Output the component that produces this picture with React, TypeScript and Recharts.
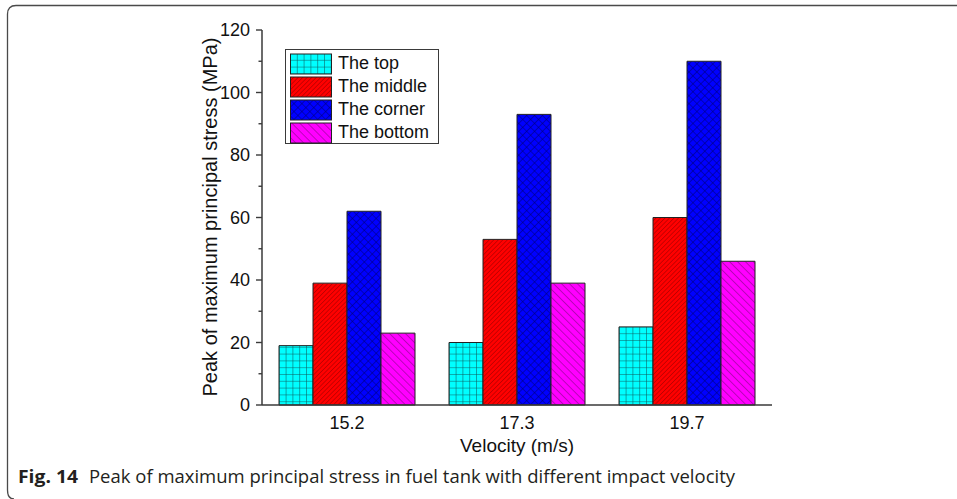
import React from "react";
import { BarChart, Bar, XAxis, YAxis } from "recharts";

const velocities = ["15.2", "17.3", "19.7"];
const topStress = [19, 20, 25];
const middleStress = [39, 53, 60];
const cornerStress = [62, 93, 110];
const bottomStress = [23, 39, 46];
const stressTicks = [0, 10, 20, 30, 40, 50, 60, 70, 80, 90, 100, 110, 120];

const data = velocities.map((v, i) => ({
  v,
  top: topStress[i],
  middle: middleStress[i],
  corner: cornerStress[i],
  bottom: bottomStress[i],
}));

const series = [
  { key: "top", name: "The top", fill: "url(#pat-top)" },
  { key: "middle", name: "The middle", fill: "url(#pat-middle)" },
  { key: "corner", name: "The corner", fill: "url(#pat-corner)" },
  { key: "bottom", name: "The bottom", fill: "url(#pat-bottom)" },
];

const FONT = "'Liberation Sans', Arial, sans-serif";
const CAPTION_FONT = "'Open Sans', 'Noto Sans', sans-serif";
const AXIS = "#3a3a3a";
const TICK_SIZE = 6;
const TICK_MARGIN = 6;

const Patterns = () => (
  <svg width={0} height={0} style={{ position: "absolute" }}>
    <defs>
      <pattern id="pat-top" width={6.8} height={6.8} patternUnits="userSpaceOnUse">
        <rect width={6.8} height={6.8} fill="#00ffff" />
        <path d="M0 0V6.8M0 0H6.8" stroke="#0d5a5c" strokeWidth={1.1} />
      </pattern>
      <pattern
        id="pat-middle"
        width={3.2}
        height={3.2}
        patternUnits="userSpaceOnUse"
        patternTransform="rotate(45)"
      >
        <rect width={3.2} height={3.2} fill="#ff0000" />
        <path d="M0 0V3.2" stroke="#8a0000" strokeWidth={0.9} />
      </pattern>
      <pattern
        id="pat-corner"
        width={5.6}
        height={5.6}
        patternUnits="userSpaceOnUse"
        patternTransform="rotate(45)"
      >
        <rect width={5.6} height={5.6} fill="#0000ff" />
        <path d="M0 0V5.6M0 0H5.6" stroke="#000070" strokeWidth={1} />
      </pattern>
      <pattern
        id="pat-bottom"
        width={5.6}
        height={5.6}
        patternUnits="userSpaceOnUse"
        patternTransform="rotate(-45)"
      >
        <rect width={5.6} height={5.6} fill="#ff00ff" />
        <path d="M0 0V5.6" stroke="#6a0a6a" strokeWidth={0.9} />
      </pattern>
    </defs>
  </svg>
);

const StressTick = (props: any) => {
  const { x, y, payload } = props;
  const axisX = x + TICK_SIZE + TICK_MARGIN;
  const major = payload.value % 20 === 0;
  return (
    <g>
      <line
        x1={axisX - (major ? TICK_SIZE : 3.5)}
        x2={axisX}
        y1={y}
        y2={y}
        stroke={AXIS}
        strokeWidth={1.4}
      />
      {major && (
        <text
          x={x}
          y={y}
          dy="0.35em"
          textAnchor="end"
          style={{ fontSize: 18, fontFamily: FONT }}
          fill="#111"
        >
          {payload.value}
        </text>
      )}
    </g>
  );
};

// legend box sits inside the plot, upper left
const SeriesLegend = () => (
  <div
    style={{
      position: "absolute",
      left: 285,
      top: 49,
      boxSizing: "border-box",
      width: 154,
      height: 95,
      border: `1.5px solid ${AXIS}`,
      background: "#fff",
      padding: "2px 0 0 4px",
      fontFamily: FONT,
      fontSize: 18,
      color: "#111",
    }}
  >
    {series.map((s) => (
      <div
        key={s.key}
        style={{ display: "flex", alignItems: "center", height: 23 }}
      >
        <svg width={42} height={22}>
          <rect
            x={0.5}
            y={1}
            width={41}
            height={20}
            fill={s.fill}
            stroke="#222"
            strokeWidth={1}
          />
        </svg>
        <span style={{ marginLeft: 6, lineHeight: "23px" }}>{s.name}</span>
      </div>
    ))}
  </div>
);

const App = () => {
  return (
    <div
      style={{
        position: "absolute",
        left: 0,
        top: 0,
        width: 957,
        height: 499,
        background: "#fff",
      }}
    >
      <Patterns />
      <BarChart
        width={957}
        height={499}
        data={data}
        margin={{ top: 30, right: 185, bottom: 64, left: 200 }}
        barCategoryGap="10%"
        barGap={0}
      >
        <XAxis
          dataKey="v"
          tickLine={false}
          tickSize={0}
          tickMargin={11}
          height={30}
          axisLine={{ stroke: AXIS, strokeWidth: 1.5 }}
          tick={{ fontSize: 18, fontFamily: FONT, fill: "#111" }}
        />
        <XAxis
          xAxisId="top"
          orientation="top"
          dataKey="v"
          tick={false}
          tickLine={false}
          height={0}
          axisLine={{ stroke: AXIS, strokeWidth: 1.5 }}
        />
        <YAxis
          domain={[0, 120]}
          ticks={stressTicks}
          interval={0}
          width={62}
          tickLine={false}
          tickSize={TICK_SIZE}
          tickMargin={TICK_MARGIN}
          axisLine={{ stroke: AXIS, strokeWidth: 1.5 }}
          tick={(p: any) => <StressTick {...p} />}
        />
        <YAxis
          yAxisId="right"
          orientation="right"
          domain={[0, 120]}
          tick={false}
          tickLine={false}
          width={0}
          axisLine={{ stroke: AXIS, strokeWidth: 1.5 }}
        />
        {series.map((s) => (
          <Bar
            key={s.key}
            dataKey={s.key}
            name={s.name}
            fill={s.fill}
            stroke="#222"
            strokeWidth={1}
            isAnimationActive={false}
          />
        ))}
      </BarChart>
      <SeriesLegend />
      <svg
        width={957}
        height={499}
        style={{ position: "absolute", left: 0, top: 0, pointerEvents: "none" }}
      >
        <path
          d="M957 5.5H16Q7.5 5.5 7.5 14V490Q7.5 499 14 499"
          fill="none"
          stroke="#4a4a4a"
          strokeWidth={1.3}
        />
        <text
          x={517}
          y={452}
          textAnchor="middle"
          style={{ fontSize: 19, fontFamily: FONT }}
          fill="#111"
        >
          Velocity (m/s)
        </text>
        <text
          x={217}
          y={217}
          transform="rotate(-90 217 217)"
          textAnchor="middle"
          style={{ fontSize: 20, fontFamily: FONT }}
          fill="#111"
        >
          Peak of maximum principal stress (MPa)
        </text>
        <text
          x={18}
          y={483}
          style={{ fontSize: 18, fontWeight: "bold", fontFamily: CAPTION_FONT }}
          fill="#231f20"
          textLength={60}
          lengthAdjust="spacingAndGlyphs"
        >
          Fig. 14
        </text>
        <text
          x={89}
          y={483}
          style={{ fontSize: 18, fontFamily: CAPTION_FONT }}
          fill="#231f20"
          textLength={646}
          lengthAdjust="spacingAndGlyphs"
        >
          Peak of maximum principal stress in fuel tank with different impact velocity
        </text>
      </svg>
    </div>
  );
};

export default App;
